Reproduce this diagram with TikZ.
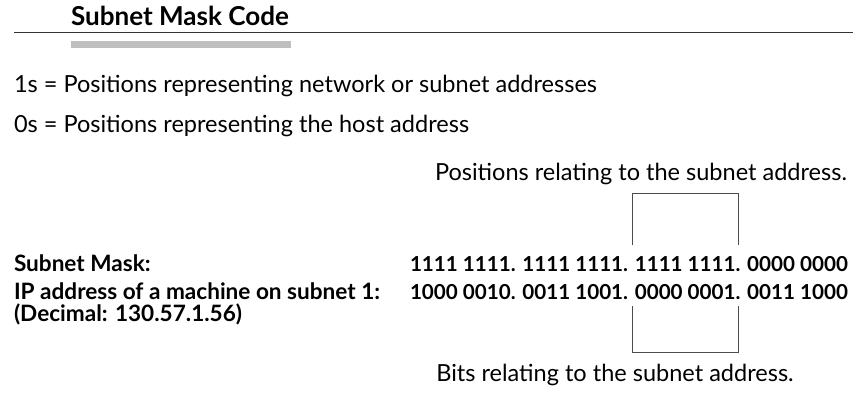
\documentclass[tikz,border=0pt]{standalone}
\usepackage{fontspec}
\setmainfont{Lato}
\newlength\measw
\newcommand\fitsize[3]{% #1 macro name, #2 target width (pt), #3 text
  \settowidth\measw{\normalfont\fontsize{10pt}{12pt}\selectfont #3}%
  \pgfmathsetmacro#1{10*#2/\measw}%
  \global\let#1#1}
\newcommand\regfont{\fontsize{\regsz pt}{\regsz pt}\selectfont}
\newcommand\labfont{\fontsize{\labsz pt}{\labsz pt}\selectfont\bfseries}
\newcommand\bitfont{\fontsize{\bitsz pt}{\bitsz pt}\selectfont\bfseries}
\newcommand\ttlfont{\fontsize{\ttlsz pt}{\ttlsz pt}\selectfont\bfseries}
\AtBeginDocument{%
  \fitsize{\regsz}{412}{Positions relating to the subnet address.}%
  \fitsize{\labsz}{366}{\bfseries IP address of a machine on subnet 1:}%
  \fitsize{\bitsz}{438}{\bfseries 1111 1111. 1111 1111. 1111 1111. 0000 0000}%
  \fitsize{\ttlsz}{218}{\bfseries Subnet Mask Code}}
\begin{document}
\begin{tikzpicture}[x=1pt,y=-1pt,
  txt/.style={inner sep=0pt, outer sep=0pt},
  rulestyle/.style={draw=black!80, line width=1pt},
  bracketstyle/.style={draw=black!70, line width=0.9pt},
  barstyle/.style={fill=black!25}]
\useasboundingbox (0,0) rectangle (853,417);
% header
\node[txt, anchor=base west, font=\ttlfont] (title) at (71,26) {Subnet Mask Code};
\coordinate (ruleL) at (14,33);
\coordinate (ruleR) at (853,33);
\draw[rulestyle] (ruleL) -- (ruleR);
\fill[barstyle] (71,41) rectangle (291,48);
% legend
\node[txt, anchor=base west, font=\regfont] (ones) at (14,93) {1s = Positions representing network or subnet addresses};
\node[txt, anchor=base west, font=\regfont] (zeros) at (14,132) {0s = Positions representing the host address};
% top label and bracket
\node[txt, anchor=base east, font=\regfont] (poslab) at (847,180) {Positions relating to the subnet address.};
\coordinate (tA) at (632,245);
\coordinate (tB) at (632,193);
\coordinate (tC) at (738,193);
\coordinate (tD) at (738,245);
\draw[bracketstyle] (tA) -- (tB) -- (tC) -- (tD);
% rows
\node[txt, anchor=base west, font=\labfont] (smlab) at (14,271) {Subnet Mask:};
\node[txt, anchor=base east, font=\bitfont] (smbits) at (848,271) {1111 1111. 1111 1111. 1111 1111. 0000 0000};
\node[txt, anchor=base west, font=\labfont] (iplab) at (14,299) {IP address of a machine on subnet 1:};
\node[txt, anchor=base east, font=\bitfont] (ipbits) at (848,299) {1000 0010. 0011 1001. 0000 0001. 0011 1000};
\node[txt, anchor=base west, font=\labfont] (declab) at (14,321) {(Decimal: 130.57.1.56)};
% bottom bracket and label
\coordinate (bA) at (632,306);
\coordinate (bB) at (632,352);
\coordinate (bC) at (738,352);
\coordinate (bD) at (738,306);
\draw[bracketstyle] (bA) -- (bB) -- (bC) -- (bD);
\node[txt, anchor=base, font=\regfont] (bitslab) at (615,381) {Bits relating to the subnet address.};
\end{tikzpicture}
\end{document}
